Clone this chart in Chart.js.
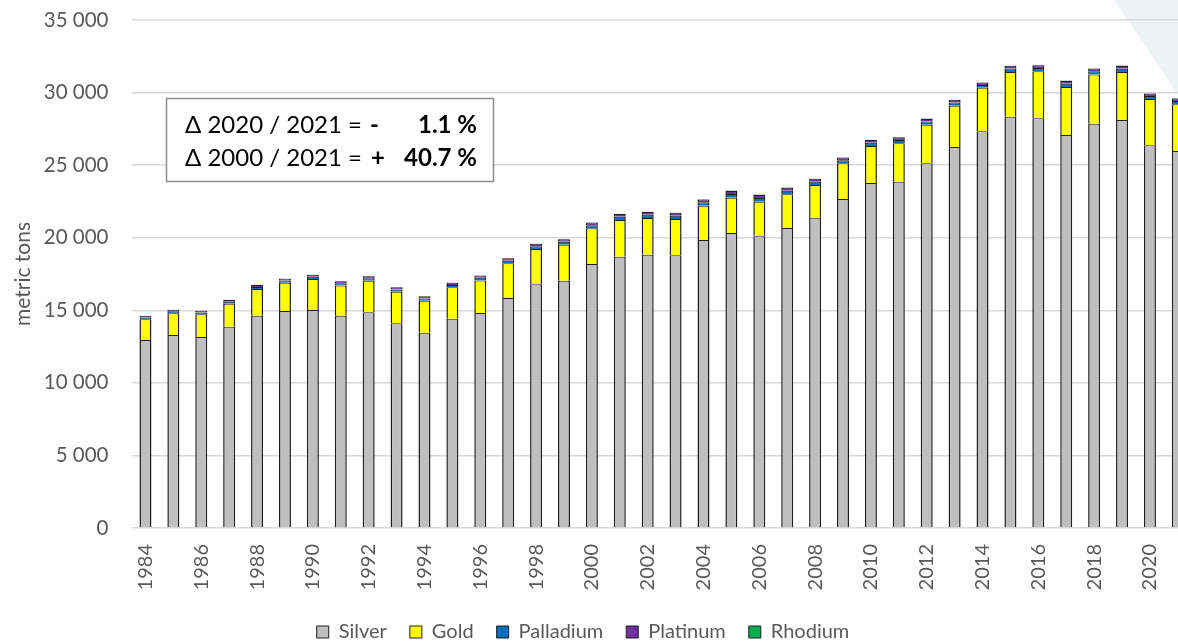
<!DOCTYPE html>
<html>
<head>
<meta charset="utf-8">
<script src="https://cdn.jsdelivr.net/npm/chart.js@4/dist/chart.umd.min.js"></script>
<style>
  html, body { margin: 0; padding: 0; background: #fff; overflow: hidden; width: 1178px; height: 641px; }
  #wrap { position: absolute; left: 0; top: 0; width: 1218px; height: 652px; }
  canvas { display: block; }
</style>
</head>
<body>
<div id="wrap"><canvas id="c" width="1218" height="652"></canvas></div>
<script>
const years = [1984,1985,1986,1987,1988,1989,1990,1991,1992,1993,1994,1995,1996,1997,1998,1999,2000,2001,2002,2003,2004,2005,2006,2007,2008,2009,2010,2011,2012,2013,2014,2015,2016,2017,2018,2019,2020,2021];

const silver = [12950,13300,13160,13870,14630,14950,15020,14630,14860,14100,13460,14420,14810,15850,16790,17040,18190,18690,18830,18790,19840,20330,20100,20670,21380,22670,23770,23860,25130,26250,27330,28340,28230,27080,27860,28110,26370,25980];

const gold = [1430,1500,1560,1580,1840,1950,2140,2070,2180,2180,2200,2160,2250,2390,2430,2480,2460,2530,2530,2500,2360,2430,2380,2320,2250,2460,2550,2650,2660,2850,3010,3080,3240,3310,3380,3310,3190,3220];

const palladium = [120,125,130,135,140,145,150,155,160,160,155,165,175,180,195,200,205,220,215,225,235,250,250,245,230,210,225,215,215,220,190,235,225,225,225,225,200,215];

const platinum = [110,115,120,125,130,135,140,145,150,150,145,155,160,165,175,180,185,195,190,200,205,215,215,210,195,185,190,195,180,185,160,190,190,190,190,190,170,185];

const rhodium = [12,12,13,13,14,14,15,15,15,15,14,15,16,17,18,18,19,20,20,21,22,23,24,24,23,22,23,23,22,23,20,24,23,23,23,24,21,22];

const yTicks = [0,5000,10000,15000,20000,25000,30000,35000];

const seriesNames = ['Silver','Gold','Palladium','Platinum','Rhodium'];
const seriesColors = ['#BFBFBF','#FFFF00','#0070C0','#7030A0','#00B050'];
const seriesValues = [silver, gold, palladium, platinum, rhodium];

const fmt = v => String(v).replace(/\B(?=(\d{3})+(?!\d))/g, ' ');
const FONT = 'Lato';

const bgPlugin = {
  id: 'bg',
  beforeDraw(chart) {
    const ctx = chart.ctx;
    ctx.save();
    ctx.fillStyle = '#ffffff';
    ctx.fillRect(0, 0, chart.width, chart.height);
    ctx.fillStyle = '#EDF2F5';
    ctx.beginPath();
    ctx.moveTo(1114, 0);
    ctx.lineTo(chart.width, 0);
    ctx.lineTo(chart.width, (chart.width - 1114) * 1.47);
    ctx.closePath();
    ctx.fill();
    ctx.restore();
  }
};

const legendShift = {
  id: 'legendShift',
  afterLayout(chart) {
    const lg = chart.legend;
    if (lg) { lg.left -= 20; lg.right -= 20; }
  }
};

const noteBox = {
  id: 'noteBox',
  afterDraw(chart) {
    const ctx = chart.ctx;
    ctx.save();
    ctx.fillStyle = '#ffffff';
    ctx.fillRect(166, 98, 328, 84);
    ctx.strokeStyle = '#8c8c8c';
    ctx.lineWidth = 1.5;
    ctx.strokeRect(166.5, 98.5, 327, 83);
    ctx.fillStyle = '#000000';
    ctx.textBaseline = 'middle';
    ctx.font = '24px ' + FONT;
    ctx.textAlign = 'left';
    ctx.fillText('\u0394 2020 / 2021 =', 185, 125);
    ctx.fillText('\u0394 2000 / 2021 =', 185, 158);
    ctx.font = 'bold 24px ' + FONT;
    ctx.fillText('-', 370, 125);
    ctx.fillText('+', 371, 158);
    ctx.textAlign = 'right';
    ctx.fillText('1.1 %', 477, 125);
    ctx.fillText('40.7 %', 477, 158);
    ctx.restore();
  }
};

const datasets = seriesNames.map((name, i) => ({
  label: name,
  data: seriesValues[i],
  backgroundColor: seriesColors[i],
  borderColor: '#1f1f1f',
  borderWidth: { top: 1, left: 1.5, right: 1.5, bottom: 0 },
  borderSkipped: 'start',
  barPercentage: 0.43,
  categoryPercentage: 1.0
}));

new Chart(document.getElementById('c'), {
  type: 'bar',
  data: { labels: years.map(String), datasets },
  options: {
    responsive: false,
    animation: false,
    devicePixelRatio: 1,
    layout: { padding: { top: 20, right: 12, bottom: 0, left: 0 } },
    plugins: {
      legend: {
        position: 'bottom',
        labels: {
          boxWidth: 12, boxHeight: 12, padding: 23,
          color: '#595959',
          font: { family: FONT, size: 20 },
          generateLabels: chart => chart.data.datasets.map((ds, i) => ({
            text: ds.label,
            fillStyle: ds.backgroundColor,
            strokeStyle: '#1f1f1f',
            lineWidth: 1,
            hidden: false,
            datasetIndex: i,
            fontColor: '#595959'
          }))
        }
      },
      tooltip: { enabled: false }
    },
    scales: {
      x: {
        stacked: true,
        grid: { display: false, drawTicks: false },
        border: { display: false },
        ticks: {
          autoSkip: false, maxRotation: 90, minRotation: 90, padding: 16,
          color: '#595959',
          font: { family: FONT, size: 20 },
          callback: (v, i) => (i % 2 === 0 ? String(years[i]) : '')
        },
        afterFit: s => { s.height = 71; }
      },
      y: {
        stacked: true,
        min: yTicks[0],
        max: yTicks[yTicks.length - 1],
        afterBuildTicks: s => { s.ticks = yTicks.map(v => ({ value: v })); },
        ticks: {
          padding: 0,
          color: '#595959',
          font: { family: FONT, size: 20.5 },
          callback: v => fmt(v)
        },
        grid: { color: '#D9D9D9', lineWidth: 1.5, drawTicks: true, tickLength: 23, tickColor: 'rgba(0,0,0,0)' },
        border: { display: false },
        title: {
          display: true, text: 'metric tons', color: '#595959',
          font: { family: FONT, size: 21 },
          padding: { top: 11, bottom: 0 }
        },
        afterFit: s => { s.width = 131.5; }
      }
    }
  },
  plugins: [bgPlugin, legendShift, noteBox]
});
</script>
</body>
</html>
